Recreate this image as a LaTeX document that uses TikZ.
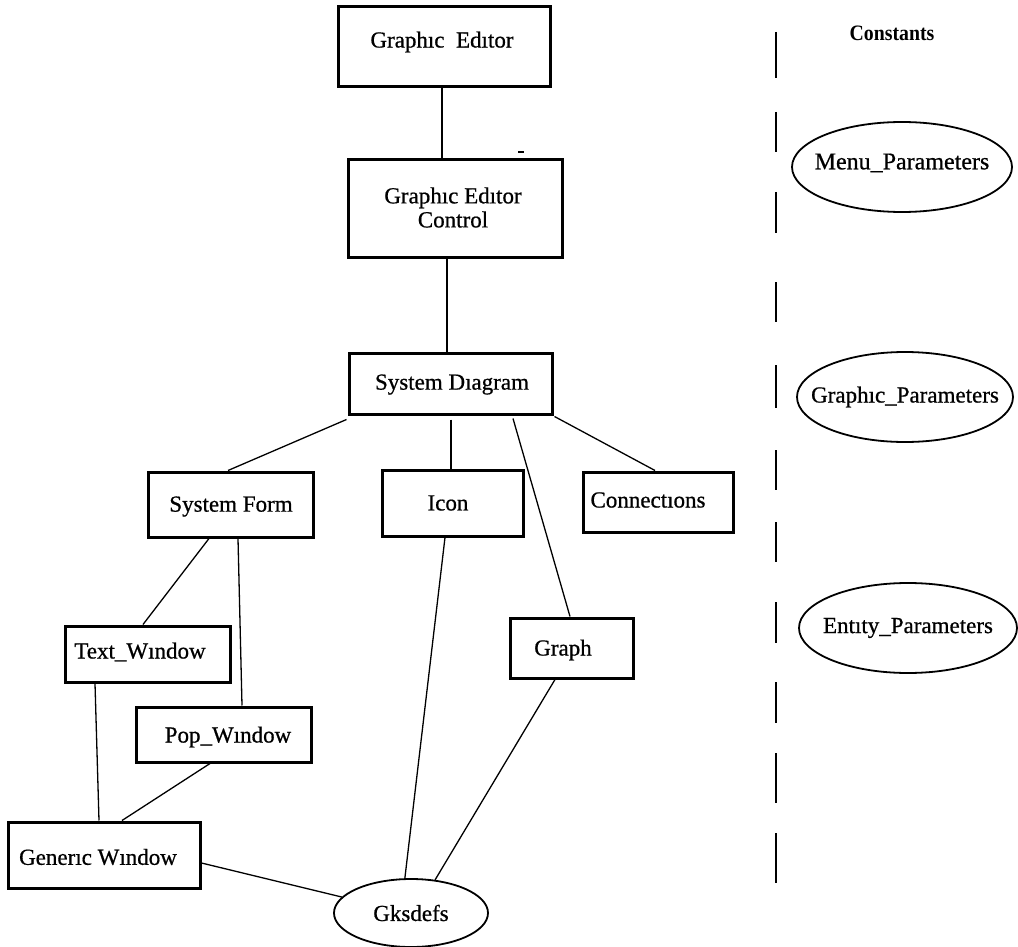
\documentclass[tikz,border=0pt]{standalone}
\usepackage{fontspec}
\usepackage{graphicx}
\setmainfont{Liberation Serif}
\newfontfamily\inkfont{Liberation Serif}[FakeBold=0.7]
\usetikzlibrary{shapes.geometric,calc}

\begin{document}
\begin{tikzpicture}[x=1pt,y=-1pt,
  box/.style={draw, line width=3pt, rectangle, inner sep=0pt},
  blabel/.style={font=\inkfont\fontsize{23}{23}\selectfont, align=center, inner sep=0pt},
  oval/.style={draw, line width=1.8pt, ellipse, inner sep=0pt},
  link/.style={line width=1.3pt},
  divider/.style={line width=1.8pt}]

  % page frame
  \fill[white] (0,0) rectangle (1018,947);
  \useasboundingbox (0,0) rectangle (1018,947);

  % module boxes (text placed where it sits inside each box)
  \node[box, minimum width=212pt, minimum height=80pt,
        label={[blabel, xshift=-2pt, yshift=5pt]center:Graphıc\ \ Edıtor}] (ge) at (444,47) {};
  \node[box, minimum width=214pt, minimum height=97pt,
        label={[blabel, xshift=-2pt, yshift=1pt]center:Graphıc Edıtor\\[1pt]Control}] (gec) at (455,208.5) {};
  \node[box, minimum width=203pt, minimum height=61pt,
        label={[blabel, xshift=1.5pt, yshift=-1pt]center:System Dıagram}] (sd) at (450.5,383.5) {};
  \node[box, minimum width=165pt, minimum height=65pt,
        label={[blabel, xshift=0.5pt, yshift=-2pt]center:System Form}] (sf) at (230.5,504.5) {};
  \node[box, minimum width=141pt, minimum height=66pt,
        label={[blabel, xshift=-4.5pt]center:Icon}] (icon) at (452.5,503) {};
  \node[box, minimum width=150pt, minimum height=60pt,
        label={[blabel, xshift=-10pt, yshift=2pt]center:Connectıons}] (conn) at (658,502) {};
  \node[box, minimum width=165pt, minimum height=56pt,
        label={[blabel, xshift=-7.5pt, yshift=2pt]center:Text\_Wındow}] (tw) at (147.5,654) {};
  \node[box, minimum width=123pt, minimum height=60pt,
        label={[blabel, xshift=-8.5pt, yshift=-2pt]center:Graph}] (graph) at (571.5,648) {};
  \node[box, minimum width=175pt, minimum height=55pt,
        label={[blabel, xshift=4.5pt, yshift=-2.5pt]center:Pop\_Wındow}] (pop) at (223.5,734.5) {};
  \node[box, minimum width=192pt, minimum height=66pt,
        label={[blabel, xshift=-6pt, yshift=-2pt]center:Generıc Wındow}] (gw) at (104,855) {};

  % shared definitions
  \node[oval, minimum width=154pt, minimum height=68pt,
        label={[blabel]center:Gksdefs}] (gks) at (411,913) {};

  % hierarchy links
  \draw[link] ([shift={(-2,0)}]ge.south) -- ([shift={(-2,0)}]ge.south |- gec.north);
  \draw[link] ([shift={(-8,0)}]gec.south) -- ([shift={(-8,0)}]gec.south |- sd.north);
  \draw[link] ([shift={(-1,4)}]sd.south west) -- ([shift={(-2.5,0)}]sf.north);
  \draw[link] ([shift={(0.5,4)}]sd.south) -- ([shift={(0.5,0)}]sd.south |- icon.north);
  \draw[link] ([shift={(62.5,3)}]sd.south) -- ([shift={(-1.5,0)}]graph.north);
  \draw[link] ([shift={(1,1)}]sd.south east) -- ([shift={(-3,0)}]conn.north);
  \draw[link] ([shift={(-21.5,0)}]sf.south) -- ([shift={(-4.5,0)}]tw.north);
  \draw[link] ([shift={(7.5,0)}]sf.south) -- ([shift={(18.5,0)}]pop.north);
  \draw[link] ([shift={(-52.5,0)}]tw.south) -- ([shift={(-5,0)}]gw.north);
  \draw[link] ([shift={(-13.5,0)}]pop.south) -- ([shift={(18,0)}]gw.north);
  \draw[link] ([shift={(0,8)}]gw.east) -- (gks.167);
  \draw[link] ([shift={(-7.5,0)}]icon.south) -- (gks.100);
  \draw[link] ([shift={(-16.5,0)}]graph.south) -- (gks.54);

  % stray mark beside the control box
  \coordinate (mk) at (518,152);
  \draw[line width=1.5pt] (mk) -- ++(6,0);

  % constants column
  \node[font=\fontsize{22}{24}\selectfont\bfseries, inner sep=0pt] (const) at (892,33)
       {\scalebox{0.9}[1]{Constants}};
  \foreach \ya/\yb in {32/78, 112/152, 192/233, 282/322, 365/408, 450/490,
                       522/562, 602/643, 682/723, 753/803, 833/883}
    \draw[divider] (776,\ya) -- (776,\yb);

  \node[oval, minimum width=220pt, minimum height=90pt,
        label={[blabel, font=\inkfont\fontsize{24}{24}\selectfont, yshift=4pt]center:Menu\_Parameters}] (menu) at (902,167) {};
  \node[oval, minimum width=216pt, minimum height=90pt,
        label={[blabel]center:Graphıc\_Parameters}] (gpar) at (905,397) {};
  \node[oval, minimum width=218pt, minimum height=90pt,
        label={[blabel]center:Entıty\_Parameters}] (epar) at (908,628) {};
\end{tikzpicture}
\end{document}
